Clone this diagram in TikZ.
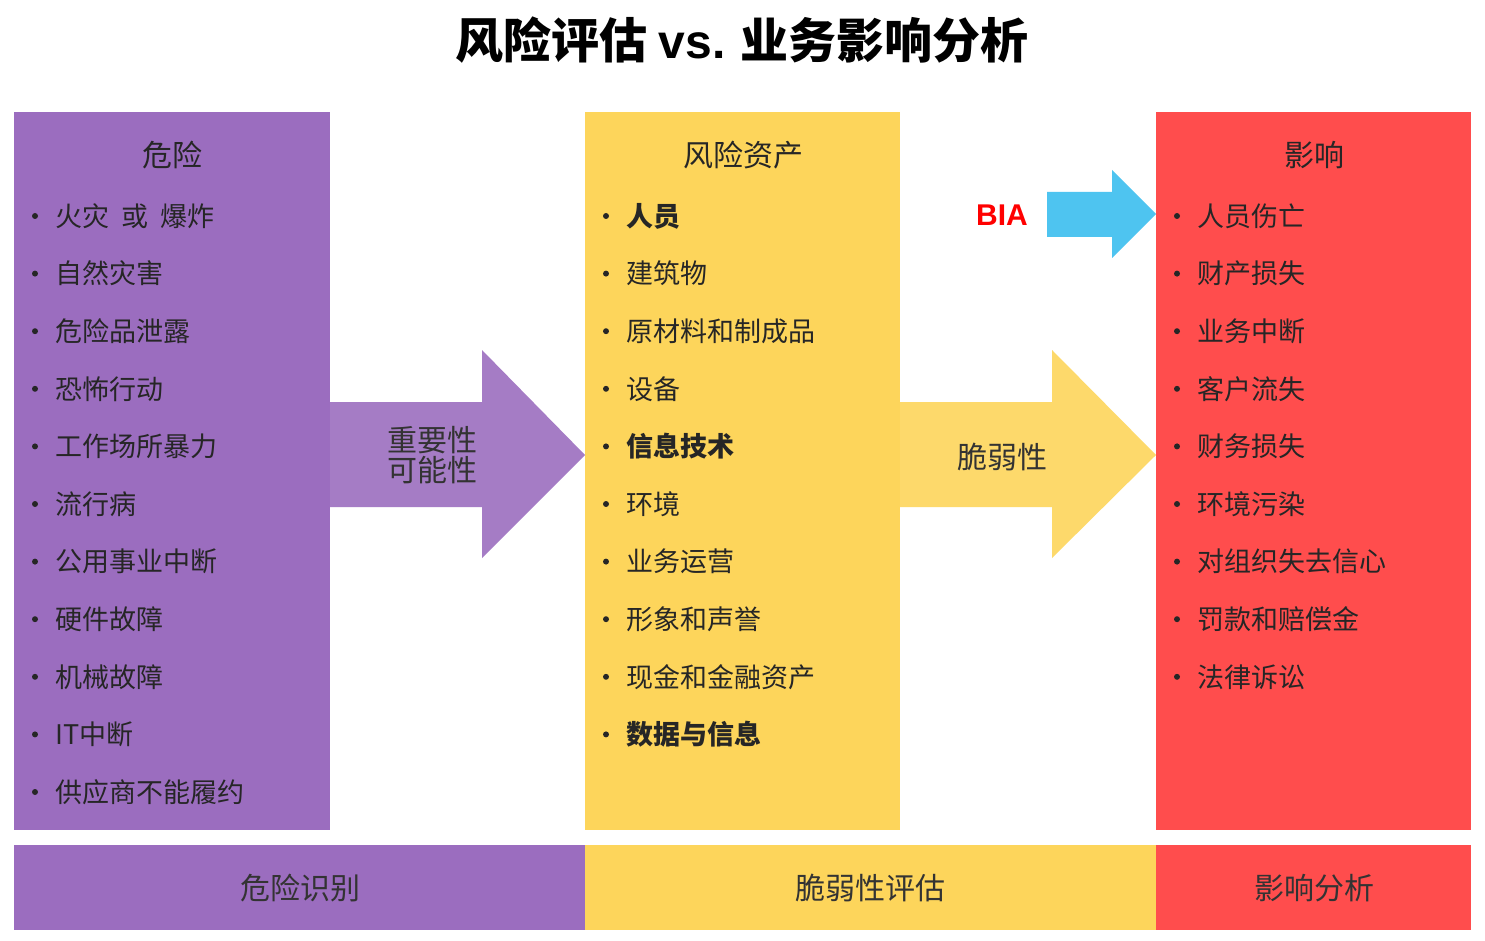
\documentclass[tikz,border=0pt]{standalone}
\usepackage{fontspec}
\setmainfont{Noto Sans CJK SC}
\newfontfamily\lat{Liberation Sans}
\definecolor{pur}{HTML}{9B6DBF}
\definecolor{yel}{HTML}{FDD55B}
\definecolor{red1}{HTML}{FF4D4D}
\definecolor{blu}{HTML}{4EC4F0}
\begin{document}
\begin{tikzpicture}[x=1pt,y=-1pt,
  item/.style={anchor=west,font=\fontsize{27}{30}\selectfont,text=black!85},
  bul/.style={circle,fill=black!85,inner sep=0,minimum size=6pt},
  head/.style={font=\fontsize{30}{34}\selectfont,text=black!85},
  lab/.style={font=\fontsize{30}{36}\selectfont,text=black!80,align=center}]
\useasboundingbox (0,0) rectangle (1485,941);
\fill[white] (0,0) rectangle (1485,941);
\node[font=\fontsize{48}{52}\selectfont\bfseries] (title) at (742,40) {风险评估 {\lat vs.} 业务影响分析};
% boxes
\fill[pur] (14,112) rectangle (330,830);
\fill[yel] (585,112) rectangle (900,830);
\fill[red1] (1156,112) rectangle (1471,830);
\fill[pur] (14,845) rectangle (585,930);
\fill[yel] (585,845) rectangle (1156,930);
\fill[red1] (1156,845) rectangle (1471,930);
% arrows
\fill[pur!90!white] (330,402) -- (482,402) -- (482,350) -- (585,455) -- (482,558) -- (482,507) -- (330,507) -- cycle;
\fill[yel!90!white] (900,402) -- (1052,402) -- (1052,350) -- (1156,455) -- (1052,558) -- (1052,507) -- (900,507) -- cycle;
\fill[blu] (1047,192) -- (1112,192) -- (1112,170) -- (1156,214) -- (1112,258) -- (1112,237) -- (1047,237) -- cycle;
\node[font=\lat\fontsize{30}{34}\selectfont\bfseries,text=red] (bia) at (1002,215) {BIA};
\node[lab] (a1) at (432,455) {重要性\\[-6pt]可能性};
\node[lab] (a2) at (1002,457) {脆弱性};
% headers
\node[head] (h1) at (172,155) {危险};
\node[head] (h2) at (743,155) {风险资产};
\node[head] (h3) at (1314,155) {影响};
% lists
\foreach \t [count=\i] in {火灾\ \ 或\ \ 爆炸,自然灾害,危险品泄露,恐怖行动,工作场所暴力,流行病,公用事业中断,硬件故障,机械故障,IT中断,供应商不能履约}{
  \pgfmathsetmacro\yy{216+57.6*(\i-1)}
  \node[bul] (pb\i) at (35,\yy) {};
  \node[item] (pt\i) at (52,\yy) {\t};}
\foreach \t/\b [count=\i] in {人员/1,建筑物/0,原材料和制成品/0,设备/0,信息技术/1,环境/0,业务运营/0,形象和声誉/0,现金和金融资产/0,数据与信息/1}{
  \pgfmathsetmacro\yy{216+57.6*(\i-1)}
  \node[bul] (yb\i) at (606,\yy) {};
  \ifnum\b=1 \node[item,font=\fontsize{27}{30}\selectfont\bfseries] (yt\i) at (623,\yy) {\t};
  \else \node[item] (yt\i) at (623,\yy) {\t};\fi}
\foreach \t [count=\i] in {人员伤亡,财产损失,业务中断,客户流失,财务损失,环境污染,对组织失去信心,罚款和赔偿金,法律诉讼}{
  \pgfmathsetmacro\yy{216+57.6*(\i-1)}
  \node[bul] (rb\i) at (1177,\yy) {};
  \node[item] (rt\i) at (1194,\yy) {\t};}
% bottom labels
\node[lab] (b1) at (300,888) {危险识别};
\node[lab] (b2) at (870,888) {脆弱性评估};
\node[lab] (b3) at (1314,888) {影响分析};
\end{tikzpicture}
\end{document}
